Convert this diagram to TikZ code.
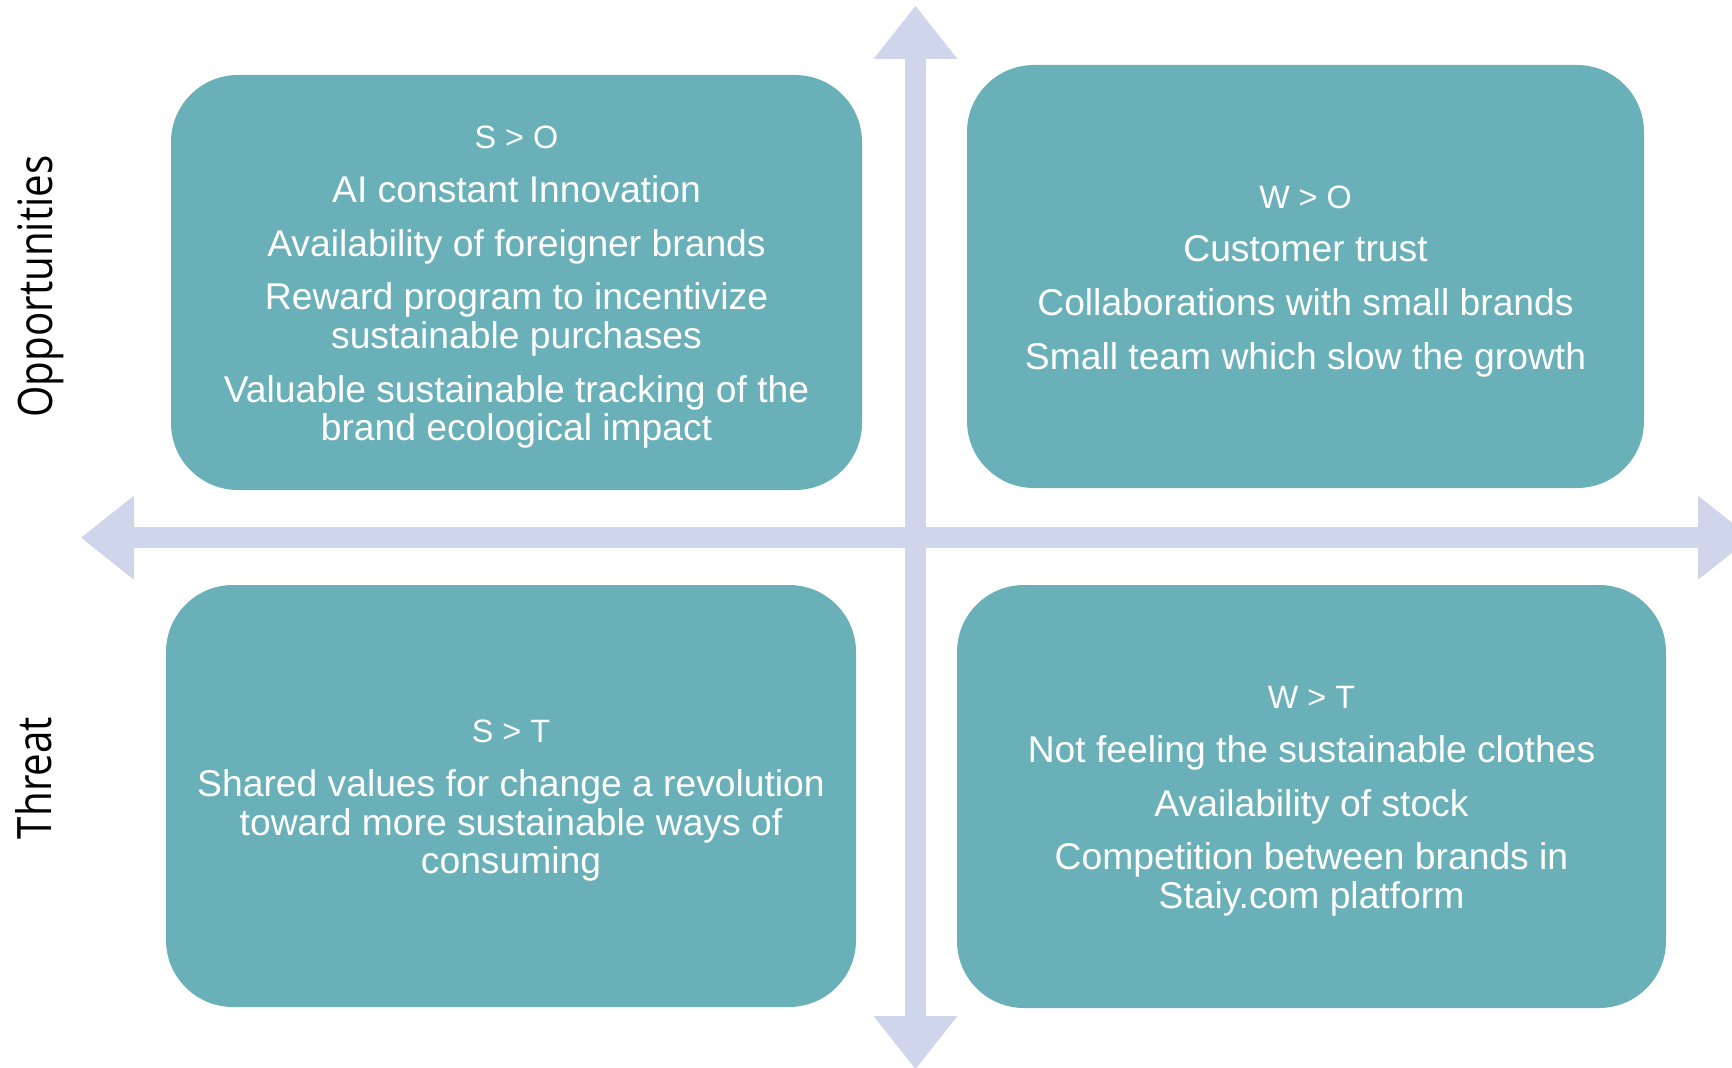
\documentclass[tikz,border=0pt]{standalone}
\usepackage{fontspec}
\setmainfont{Liberation Sans}
\newfontfamily\sidefont[FakeStretch=0.85]{Open Sans}
\usetikzlibrary{arrows.meta}

\definecolor{quadteal}{HTML}{6AB0B8}
\definecolor{axislav}{HTML}{CFD5EA}

\tikzset{
	quadrant/.style={fill=quadteal, rounded corners=6.7mm, text=white, align=center,
		inner sep=0pt, font=\fontsize{10.6}{11}\selectfont},
	axis/.style={axislav, line width=2.1mm,
		{Triangle[width=8.4mm,length=5.3mm,line width=0pt]}-{Triangle[width=8.4mm,length=5.3mm,line width=0pt]}},
	sidelabel/.style={rotate=90, anchor=base, font=\sidefont\fontsize{13.5}{16}\selectfont},
}
% heading line of a quadrant, with a strut that pushes the text block down a little
\newcommand{\quadtitle}[1]{{\fontsize{9.2}{11}\selectfont\rule{0pt}{9.2pt}#1}}

\begin{document}
\begin{tikzpicture}[]

	\useasboundingbox (0,0) rectangle (17.32,10.67);
	\clip (0,0) rectangle (17.32,10.67);

	% axes
	\coordinate (west) at (0.81,5.293);
	\coordinate (east) at (17.51,5.293);
	\coordinate (north) at (9.155,10.61);
	\coordinate (south) at (9.155,-0.02);
	\draw[axis] (west) -- (east);
	\draw[axis] (south) -- (north);

	% quadrants
	\node[quadrant, minimum width=6.91cm, minimum height=4.15cm] (so) at (5.165,7.845) {%
		\quadtitle{S > O}\\[1.5mm]
		AI constant Innovation\\[1.5mm]
		Availability of foreigner brands\\[1.5mm]
		Reward program to incentivize\\
		sustainable purchases\\[1.5mm]
		Valuable sustainable tracking of the\\
		brand ecological impact};
	\node[quadrant, minimum width=6.77cm, minimum height=4.23cm] (wo) at (13.055,7.905) {%
		\quadtitle{W > O}\\[1.5mm]
		Customer trust\\[1.5mm]
		Collaborations with small brands\\[1.5mm]
		Small team which slow the growth};
	\node[quadrant, minimum width=6.90cm, minimum height=4.22cm] (st) at (5.11,2.71) {%
		\quadtitle{S > T}\\[1.5mm]
		Shared values for change a revolution\\
		toward more sustainable ways of\\
		consuming};
	\node[quadrant, minimum width=7.09cm, minimum height=4.23cm] (wt) at (13.115,2.705) {%
		\quadtitle{W > T}\\[1.5mm]
		Not feeling the sustainable clothes\\[1.5mm]
		Availability of stock\\[1.5mm]
		Competition between brands in\\
		Staiy.com platform};

	% side labels
	\node[sidelabel] (opp) at (0.525,7.805) {Opportunities};
	\node[sidelabel] (thr) at (0.52,2.89) {Threat};

\end{tikzpicture}
\end{document}
